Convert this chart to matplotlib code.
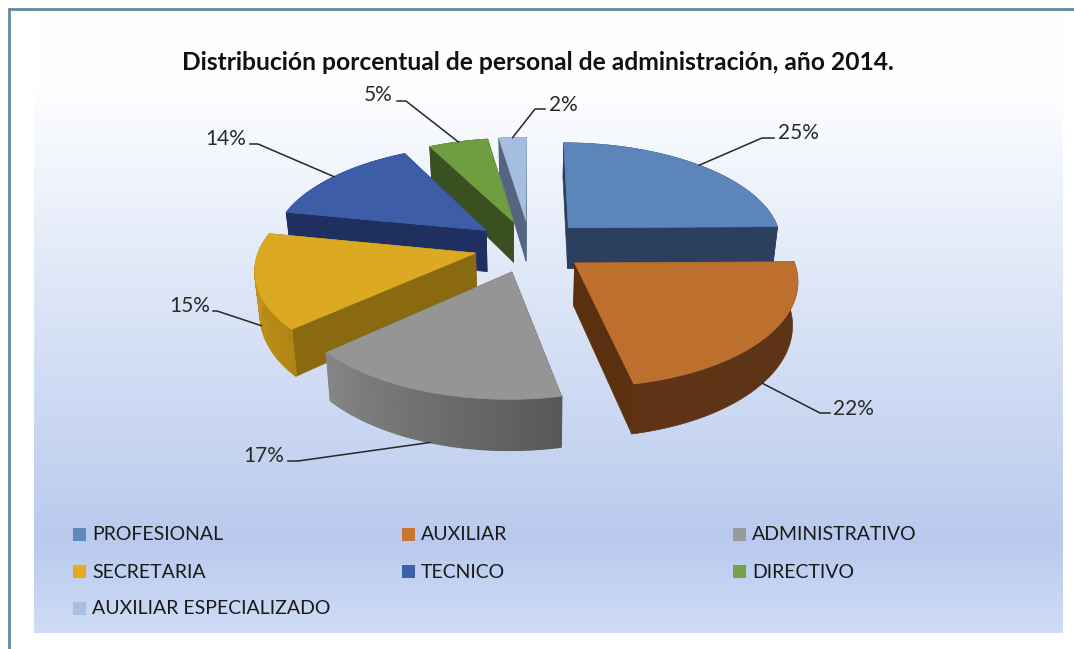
import numpy as np
import matplotlib
matplotlib.use('Agg')
import matplotlib.pyplot as plt
from matplotlib.colors import LinearSegmentedColormap, to_rgb

CATEGORIES = ['PROFESIONAL', 'AUXILIAR', 'ADMINISTRATIVO', 'SECRETARIA', 'TECNICO',
              'DIRECTIVO', 'AUXILIAR ESPECIALIZADO']
# the labels show them rounded
VALUES = [24.8, 21.9, 16.6, 14.7, 14.3, 5.2, 2.4]
TITLE = 'Distribución porcentual de personal de administración, año 2014.'

TOP_COLORS = ['#5c85ba', '#bd702d', '#959595', '#dcaa22', '#3e5da8', '#6f9d3f', '#a5bde0']
LEGEND_COLORS = ['#5f88bd', '#c9752f', '#9a9a9a', '#e5ab1e', '#3f60ad', '#73a343', '#a8bfe0']
SIDE_COLORS = ['#2b3f5e', '#5a3010', '#5a5a5a', '#8a6a10', '#1f3060', '#3a5020', '#56657f']
RIM_COLORS = [('#2b3f5e', '#2b3f5e'), ('#5e3417', '#5e3417'), ('#858585', '#585858'),
              ('#c99c1c', '#b08515'), ('#1f3060', '#1f3060'), ('#3a5020', '#3a5020'),
              ('#56657f', '#56657f')]
DRAW_ORDER = [6, 5, 4, 0, 3, 1, 2]

# projection of the tilted pie, in pixels
CX, CY = 530, 246
RX, RY = 215, 101.5
PERSP = 0.14
EXPLODE = 0.26
DEPTH = 42

# text centre, then elbow and end of the leader line
LABEL_POS = [(798, 133), (853, 409), (264, 456), (190, 306), (226, 139), (378, 95), (563, 105)]
ELBOWS = [((762, 138), (774, 138)), ((820, 413), (830, 413)), ((298, 461), (288, 461)),
          ((217, 311), (213, 311)), ((258, 144), (250, 144)), ((406, 101), (397, 101)),
          ((535, 109), (545, 109))]


def project(u, v, lower=False):
    p = 1 / (1 + PERSP * v)
    x = CX + RX * u * p
    y = CY - RY * v * p
    if lower:
        x = CX + (x - CX) * 0.98
        y = y + DEPTH * p
    return x, y


fig = plt.figure(figsize=(10.74, 6.49), dpi=100)
ax = fig.add_axes([0, 0, 1, 1])
ax.axis('off')

# panel background
bg = LinearSegmentedColormap.from_list('bg', [(0, '#ffffff'), (0.12, '#fdfeff'), (0.45, '#dde6f7'),
                                              (0.85, '#b9caee'), (1, '#cfdcf6')])
ax.imshow(np.linspace(0, 1, 256).reshape(-1, 1), cmap=bg, aspect='auto',
          extent=(34, 1063, 633, 14), zorder=0)
ax.set_xlim(0, 1074)
ax.set_ylim(649, 0)

# frame
ax.plot([9, 9, 1074], [649, 9, 9], color='#5f8a9e', lw=2, solid_joinstyle='miter')

# slices
shares = np.array(VALUES) / sum(VALUES) * 2 * np.pi
ends = np.cumsum(shares)
starts = ends - shares
mids = (starts + ends) / 2

for i in DRAW_ORDER:
    a = np.linspace(starts[i], ends[i], 60)
    ou, ov = EXPLODE * np.sin(mids[i]), EXPLODE * np.cos(mids[i])
    us = ou + np.sin(a)
    vs = ov + np.cos(a)
    tx, ty = project(us, vs)
    bx, by = project(us, vs, lower=True)
    ax0, ay0 = project(ou, ov)
    bx0, by0 = project(ou, ov, lower=True)
    # radial walls
    ax.fill([ax0, tx[0], bx[0], bx0], [ay0, ty[0], by[0], by0], color=SIDE_COLORS[i], lw=0.5)
    ax.fill([ax0, tx[-1], bx[-1], bx0], [ay0, ty[-1], by[-1], by0], color=SIDE_COLORS[i], lw=0.5)
    # rim wall, shaded along the arc
    c0, c1 = np.array(to_rgb(RIM_COLORS[i][0])), np.array(to_rgb(RIM_COLORS[i][1]))
    ax.fill(np.r_[tx, bx[::-1]], np.r_[ty, by[::-1]], color=(c0 + c1) / 2, lw=0.5)
    if RIM_COLORS[i][0] != RIM_COLORS[i][1]:
        for j in range(len(a) - 1):
            col = c1 + (c0 - c1) * j / (len(a) - 2)
            ax.fill([tx[j], tx[j + 1], bx[j + 1], bx[j]], [ty[j], ty[j + 1], by[j + 1], by[j]],
                    color=col, lw=1.2)
    # top face
    ax.fill(np.r_[ax0, tx], np.r_[ay0, ty], color=TOP_COLORS[i], lw=0.5)

# leader lines and percent labels
for i in range(len(VALUES)):
    u = EXPLODE * np.sin(mids[i]) + np.sin(mids[i])
    v = EXPLODE * np.cos(mids[i]) + np.cos(mids[i])
    sx, sy = project(u, v, lower=np.cos(mids[i]) < 0)
    (ex, ey), (fx, fy) = ELBOWS[i]
    ax.plot([sx, ex, fx], [sy, ey, fy], color='#262626', lw=1.1)
    ax.text(LABEL_POS[i][0], LABEL_POS[i][1], '%.0f%%' % VALUES[i], ha='center', va='center',
            fontsize=15, family='Lato', color='#2a2a2a')

ax.text(538, 62, TITLE, ha='center', va='center', fontsize=17.7, family='Lato',
        fontweight='bold', color='#111111')

# legend
leg_x = [73, 402, 733]
leg_y = [534, 571, 608]
for i, name in enumerate(CATEGORIES):
    x = leg_x[i % 3]
    y = leg_y[i // 3]
    ax.fill([x, x + 13, x + 13, x], [y - 6.5, y - 6.5, y + 6.5, y + 6.5], color=LEGEND_COLORS[i], lw=0)
    ax.text(x + 19, y + 1, name, ha='left', va='center', fontsize=14, family='Lato', color='#1a1a1a')

fig.savefig('out.png', dpi=100)
